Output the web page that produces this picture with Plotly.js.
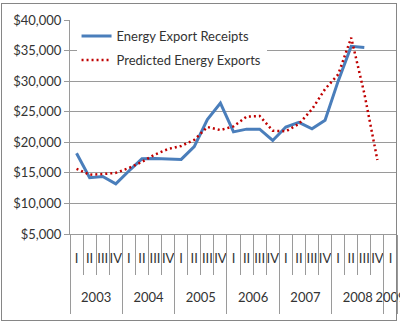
<!DOCTYPE html>
<html><head><meta charset="utf-8">
<script src="https://cdn.plot.ly/plotly-3.0.1.min.js"></script>
<style>
html,body{margin:0;padding:0;background:#fff;}
#chart{width:400px;height:322px;position:absolute;left:0;top:0;}
#frame{position:absolute;left:1px;top:3px;width:394px;height:316px;border:1px solid #868686;pointer-events:none;}
</style>
</head><body>
<div id="chart"></div><div id="frame"></div>
<script>
const categoryYears = ['2003','2003','2003','2003','2004','2004','2004','2004','2005','2005','2005','2005',
  '2006','2006','2006','2006','2007','2007','2007','2007','2008','2008','2008','2008','2009'];
const categoryQuarters = ['I','II','III','IV','I','II','III','IV','I','II','III','IV',
  'I','II','III','IV','I','II','III','IV','I','II','III','IV','I'];
const receipts = [18200,14200,14400,13200,15300,17300,17350,17300,17200,19300,23700,26400,
  21700,22150,22150,20300,22500,23250,22200,23600,30000,35700,35500,null,null];
const predicted = [15650,14700,14800,15000,15800,16800,18000,18900,19400,20400,22500,22000,
  22600,24200,24300,21900,21800,23000,25400,28700,31100,37100,28000,17100,null];
const seriesNames = ['Energy Export Receipts','Predicted Energy Exports'];

const gray = '#9a9a9a';
const font = {family:'Lato, sans-serif', size:13, color:'#333'};

// category positions derived from the arrays
const idx = categoryQuarters.map((_, i) => i);
const n = idx.length;
const yearNames = [], yearCenters = [], yearBounds = [-0.5];
categoryYears.forEach((y, i) => {
  if (i > 0 && y !== categoryYears[i-1]) yearBounds.push(i - 0.5);
  if (!yearNames.includes(y)) yearNames.push(y);
});
yearBounds.push(n - 0.5);
yearNames.forEach(y => {
  const ii = idx.filter(i => categoryYears[i] === y);
  yearCenters.push(ii.reduce((a, b) => a + b, 0) / ii.length);
});
const quarterBounds = idx.map(i => i - 0.5).concat([n - 0.5]);

const traces = [
  {type:'scatter', mode:'lines', name:seriesNames[0], x:idx, y:receipts, legendgroup:'a',
   line:{color:'#4a7ebb', width:3}, connectgaps:false},
  {type:'scatter', mode:'lines', name:seriesNames[1], x:idx, y:predicted, legendgroup:'b',
   line:{color:'#c00000', width:2.5, dash:'2px,3px'}, connectgaps:false},
  // carrier for the year axis (no visible marks)
  {type:'scatter', mode:'lines', x:yearCenters, y:yearCenters.map(() => null), xaxis:'x2',
   showlegend:false, hoverinfo:'skip', line:{width:0}}
];

const layout = {
  width:400, height:322,
  margin:{l:70, r:3, t:20, b:88},
  paper_bgcolor:'#fff', plot_bgcolor:'#fff',
  font:font,
  showlegend:true,
  legend:{x:0.02, y:0.995, xanchor:'left', yanchor:'top', bgcolor:'#fff', font:font,
          traceorder:'grouped', tracegroupgap:4},
  xaxis:{type:'linear', range:[-0.5, n-0.5], autorange:false,
         tickmode:'array', tickvals:idx, ticktext:categoryQuarters, ticks:'', tickangle:0,
         minor:{tickmode:'array', tickvals:quarterBounds, ticks:'outside', ticklen:40, tickcolor:gray, showgrid:false},
         showline:true, linecolor:gray, showgrid:false, zeroline:false, tickfont:font, ticklabelstandoff:12},
  xaxis2:{type:'linear', overlaying:'x', anchor:'y', side:'bottom', range:[-0.5, n-0.5], autorange:false,
         tickmode:'array', tickvals:yearCenters, ticktext:yearNames, ticks:'', tickangle:0,
         ticklabeloverflow:'allow',
         minor:{tickmode:'array', tickvals:yearBounds, ticks:'outside', ticklen:79, tickcolor:gray, showgrid:false},
         showline:false, showgrid:false, zeroline:false, tickfont:font, ticklabelstandoff:54},
  yaxis:{range:[5000,40000], dtick:5000, tick0:0, tickprefix:'$', tickformat:',',
         showgrid:true, gridcolor:gray, ticks:'outside', ticklen:5, tickcolor:gray,
         showline:true, linecolor:gray, zeroline:false, tickfont:font}
};

Plotly.newPlot('chart', traces, layout, {displayModeBar:false, staticPlot:true});
</script>
</body></html>
